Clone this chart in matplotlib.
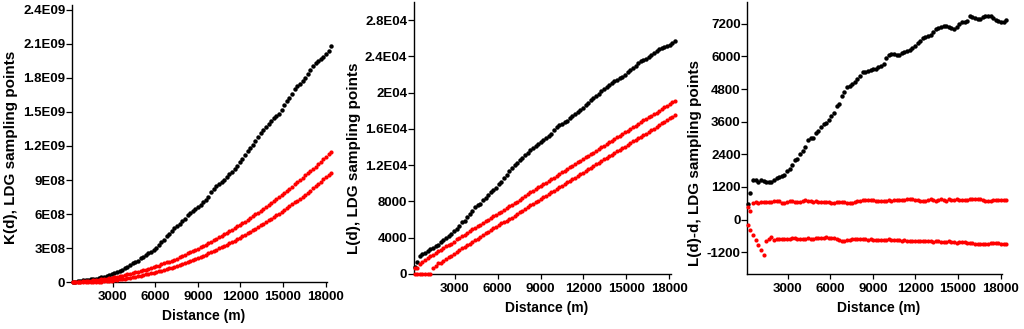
import numpy as np
import matplotlib
matplotlib.use("Agg")
import matplotlib.pyplot as plt

plt.rcParams['font.family'] = ['Liberation Sans', 'DejaVu Sans']
plt.rcParams['font.weight'] = 'bold'

# lag distances (m), 100 steps of 184 m
distance = np.arange(1, 101) * 184

# L(d)-d, one value per lag
ld_observed = [
    590, 980, 1450, 1460, 1400, 1460, 1430, 1370, 1400, 1380,
    1460, 1520, 1560, 1590, 1650, 1770, 1850, 1990, 2200, 2220,
    2420, 2540, 2680, 2930, 2990, 2990, 3200, 3270, 3410, 3500,
    3550, 3650, 3800, 3930, 4170, 4250, 4540, 4700, 4860, 4930,
    5000, 5070, 5180, 5270, 5420, 5430, 5450, 5490, 5530, 5550,
    5610, 5650, 5730, 5950, 6040, 6100, 6100, 6060, 6040, 6130,
    6180, 6210, 6250, 6300, 6380, 6480, 6560, 6690, 6720, 6760,
    6800, 6900, 7000, 7050, 7080, 7100, 7100, 7080, 7030, 7020,
    7080, 7200, 7250, 7280, 7300, 7470, 7450, 7400, 7380, 7390,
    7440, 7470, 7490, 7500, 7420, 7350, 7300, 7270, 7260, 7340,
]
ld_upper = [
    470, 300, 600, 630, 620, 640, 660, 650, 640, 650,
    670, 690, 670, 620, 600, 640, 680, 690, 650, 630,
    660, 700, 720, 690, 670, 660, 670, 660, 650, 640,
    650, 640, 610, 600, 640, 660, 650, 640, 620, 600,
    620, 660, 690, 700, 710, 720, 730, 720, 710, 700,
    700, 700, 690, 700, 710, 700, 720, 730, 720, 720,
    730, 750, 760, 740, 730, 720, 700, 690, 700, 720,
    740, 730, 700, 720, 740, 730, 700, 740, 720, 710,
    740, 730, 730, 720, 730, 740, 740, 760, 750, 740,
    720, 700, 680, 690, 720, 720, 710, 720, 730, 730,
]
ld_lower = [
    -184, -368, -552, -736, -920, -1104, -1288, -790, -720, -650,
    -760, -730, -700, -720, -730, -720, -710, -690, -680, -700,
    -720, -710, -700, -690, -700, -700, -690, -680, -660, -660,
    -650, -660, -660, -680, -700, -760, -790, -770, -750, -740,
    -730, -730, -720, -710, -720, -730, -740, -730, -740, -750,
    -760, -760, -750, -740, -730, -740, -750, -760, -760, -770,
    -760, -770, -780, -790, -780, -770, -780, -790, -800, -790,
    -800, -810, -800, -800, -810, -820, -810, -800, -820, -840,
    -860, -840, -830, -840, -850, -860, -870, -880, -890, -900,
    -910, -900, -880, -860, -850, -860, -870, -880, -880, -880,
]

x_ticks = [3000, 6000, 9000, 12000, 15000, 18000]
k_ticks = [0, 3e8, 6e8, 9e8, 1.2e9, 1.5e9, 1.8e9, 2.1e9, 2.4e9]
k_labels = ['0', '3E08', '6E08', '9E08', '1.2E09', '1.5E09', '1.8E09', '2.1E09', '2.4E09']
l_ticks = [0, 4000, 8000, 12000, 16000, 20000, 24000, 28000]
l_labels = ['0', '4000', '8000', '1.2E04', '1.6E04', '2E04', '2.4E04', '2.8E04']
lmd_ticks = [-1200, 0, 1200, 2400, 3600, 4800, 6000, 7200]
lmd_labels = ['-1200', '0', '1200', '2400', '3600', '4800', '6000', '7200']

# same estimates on the L(d) and K(d) scales
d = distance.astype(float)
series_lmd = [np.array(v, dtype=float) for v in (ld_observed, ld_upper, ld_lower)]
series_l = [v + d for v in series_lmd]
series_l[2][:7] = 0.0
series_k = [np.pi * v ** 2 for v in series_l]

W, H = 1024, 329
fig = plt.figure(figsize=(W / 100, H / 100), dpi=100)


def box(l, r, b, t):
    return [l / W, 1 - b / H, (r - l) / W, (b - t) / H]


panels = [
    (box(72, 327.3, 282.3, 5), series_k, (0, 2.441e9), k_ticks, k_labels,
     'K(d), LDG sampling points', (-0.211, 0.486)),
    (box(414, 671, 274, 2), series_l, (0, 30000), l_ticks, l_labels,
     'L(d), LDG sampling points', (-0.206, 0.426)),
    (box(747.3, 1002.3, 274, 2), series_lmd, (-2000, 8000), lmd_ticks, lmd_labels,
     'L(d)-d, LDG sampling points', (-0.178, 0.408)),
]

for rect, ys, ylim, yt, yl, ylabel, ypos in panels:
    ax = fig.add_axes(rect)
    ax.plot(d, ys[0], 'o', color='black', ms=3.2, mew=0, clip_on=False, zorder=3)
    ax.plot(d, ys[1], 'o', color='#ff0000', ms=3.0, mew=0, clip_on=False, zorder=4)
    ax.plot(d, ys[2], 'o', color='#ff0000', ms=3.0, mew=0, clip_on=False, zorder=4)
    ax.set_xlim(145, 18120)
    ax.set_ylim(*ylim)
    ax.set_xticks(x_ticks)
    ax.set_xticklabels([str(t) for t in x_ticks])
    ax.set_yticks(yt)
    ax.set_yticklabels(yl)
    for s in ['top', 'right']:
        ax.spines[s].set_visible(False)
    for s in ['left', 'bottom']:
        ax.spines[s].set_linewidth(1.0)
    ax.tick_params(axis='y', length=4, width=0.9, pad=0.8, labelsize=9.5)
    ax.tick_params(axis='x', length=3.3, width=0.9, pad=3, labelsize=9.5)
    for lab in ax.get_xticklabels() + ax.get_yticklabels():
        lab.set_fontweight('bold')
    ax.set_xlabel('Distance (m)', fontsize=10, fontweight='bold', va='top')
    ax.set_ylabel(ylabel, fontsize=11, fontweight='bold')
    hpx = (rect[3] * H)
    ax.xaxis.set_label_coords(0.516, -27.0 / hpx)
    ax.yaxis.set_label_coords(*ypos)

fig.savefig('out.png', dpi=100)
